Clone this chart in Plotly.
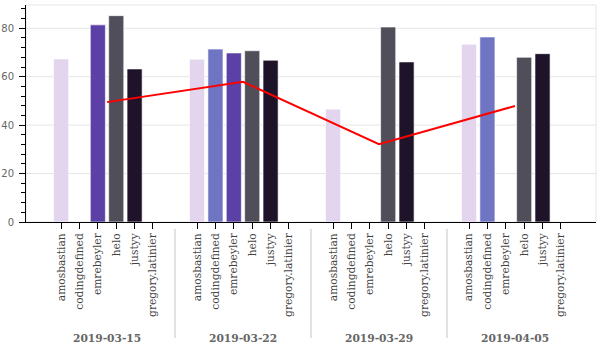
import plotly.graph_objects as go

dates = ["2019-03-15", "2019-03-22", "2019-03-29", "2019-04-05"]
people = ["amosbastian", "codingdefined", "emrebeyler", "helo", "justyy", "gregory.latinier"]
values = {
    "2019-03-15": [67.3, 0, 81.4, 85.2, 63.2, 0],
    "2019-03-22": [67.2, 71.4, 69.8, 70.7, 66.8, 0],
    "2019-03-29": [46.6, 0, 0, 80.5, 66.1, 0],
    "2019-04-05": [73.4, 76.4, 0, 68.0, 69.5, 0],
}
line_values = [49.5, 57.9, 32.1, 47.9]
colors = ["#e3d5ed", "#6f74c3", "#5b41a6", "#4f4e59", "#1f1329", "#1a1022"]
y_ticks = [0, 20, 40, 60, 80]

# layout geometry (Bokeh-like factor range with group padding and range padding)
n = len(people)
gpad = 1.4
rpad = 1.41
half = gpad / 2
widths = []
ranges = []
for i in range(len(dates)):
    left = rpad if i == 0 else half
    right = rpad if i == len(dates) - 1 else half
    widths.append(left + n + right)
    ranges.append([-0.5 - left, n - 0.5 + right])
total = sum(widths)
bounds = [0]
for w in widths:
    bounds.append(bounds[-1] + w / total)

serif = "DejaVu Serif"
sans = "DejaVu Sans"
fig = go.Figure()
layout = {}
for i, d in enumerate(dates):
    ax = "x" if i == 0 else f"x{i+1}"
    fig.add_trace(go.Bar(
        x=people, y=values[d], xaxis=ax, yaxis="y",
        marker=dict(color=colors, line=dict(color="rgba(255,255,255,0.6)", width=1)),
        width=0.82, showlegend=False, hoverinfo="x+y",
    ))
    key = "xaxis" if i == 0 else f"xaxis{i+1}"
    layout[key] = dict(
        domain=[bounds[i], bounds[i + 1]], anchor="y", type="category",
        categoryorder="array", categoryarray=people, range=ranges[i],
        showline=True, linecolor="black", linewidth=1,
        ticks="outside", ticklen=6, tickcolor="black", tickwidth=1,
        tickangle=-90, tickfont=dict(family=serif, size=10.67, color="#444"),
        showgrid=False, zeroline=False, fixedrange=True, automargin=False,
    )

center_off = rpad + n / 2
spacing = widths[1]
lo = -center_off / spacing
hi = len(dates) - 1 + center_off / spacing
fig.add_trace(go.Scatter(
    x=dates, y=line_values, xaxis="x5", yaxis="y", mode="lines",
    line=dict(color="red", width=2), showlegend=False,
))
layout["xaxis5"] = dict(domain=[0, 1], anchor="y", type="category", range=[lo, hi],
                        visible=False, showgrid=False)

layout["yaxis"] = dict(
    domain=[0, 1], anchor="x", range=[0, 89.6], tickvals=y_ticks,
    showline=True, linecolor="black", linewidth=1,
    ticks="outside", ticklen=6, tickcolor="black",
    minor=dict(dtick=4, ticks="outside", ticklen=4, tickcolor="black", showgrid=False),
    tickfont=dict(family=sans, size=10, color="#666"),
    showgrid=False, zeroline=False, ticklabelstandoff=3, automargin=False,
)

shapes = [dict(type="rect", xref="paper", yref="paper", x0=0, x1=1, y0=0, y1=1,
               line=dict(color="#e5e5e5", width=1), layer="below")]
for t in y_ticks[1:]:
    shapes.append(dict(type="line", xref="paper", yref="y", x0=0, x1=1, y0=t, y1=t,
                       line=dict(color="#e5e5e5", width=1), layer="below"))
for b in bounds[1:-1]:
    shapes.append(dict(type="line", xref="paper", yref="paper", x0=b, x1=b,
                       y0=-0.032, y1=-0.535, line=dict(color="#d9d9d9", width=1.5)))

annotations = [dict(x=d, y=-0.539, xref="x5", yref="paper", text=f"<b>{d}</b>",
                    showarrow=False, yanchor="middle",
                    font=dict(family=serif, size=10.67, color="#666")) for d in dates]

fig.update_layout(
    **layout,
    width=600, height=350,
    margin=dict(l=26, r=4, t=5, b=128, autoexpand=False),
    plot_bgcolor="rgba(0,0,0,0)", paper_bgcolor="white",
    shapes=shapes, annotations=annotations,
    bargap=0.2,
)
fig.write_html("out.html")
